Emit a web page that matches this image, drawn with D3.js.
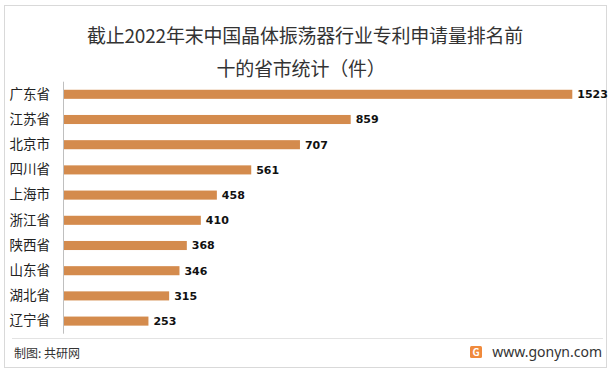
<!DOCTYPE html>
<html>
<head>
<meta charset="utf-8">
<script src="https://cdn.jsdelivr.net/npm/d3@7"></script>
<style>
  body { margin: 0; background: #fff; }
  svg { display: block; font-family: "Noto Sans CJK SC", "Noto Sans", sans-serif; }
</style>
</head>
<body>
<div id="chart"></div>
<script>
// data
const provinces = ['广东省', '江苏省', '北京市', '四川省', '上海市', '浙江省', '陕西省', '山东省', '湖北省', '辽宁省'];
const patents = [1523, 859, 707, 561, 458, 410, 368, 346, 315, 253];
const titleLines = ['截止2022年末中国晶体振荡器行业专利申请量排名前', '十的省市统计（件）'];

const W = 613, H = 373;
const svg = d3.select('#chart').append('svg')
    .attr('width', W)
    .attr('height', H);

// outer frame
svg.append('rect')
    .attr('x', 4.5).attr('y', 5.5)
    .attr('width', 602).attr('height', 362)
    .attr('fill', 'none')
    .attr('stroke', '#d9d9d9');

// title
svg.selectAll('text.title')
    .data(titleLines)
    .join('text')
    .attr('class', 'title')
    .attr('x', (d, i) => i === 0 ? 305 : 301)
    .attr('y', (d, i) => 43 + i * 33)
    .attr('text-anchor', 'middle')
    .attr('font-size', 19)
    .attr('letter-spacing', -0.2)
    .attr('fill', '#333')
    .text(d => d);

const data = provinces.map((p, i) => ({name: p, value: patents[i]}));

const x = d3.scaleLinear()
    .domain([0, 1600])
    .range([64, 598]);

const y = d3.scaleBand()
    .domain(provinces)
    .range([81.7, 333.7])
    .paddingInner(0.64)
    .paddingOuter(0.32);

// bars
svg.append('g')
    .selectAll('rect')
    .data(data)
    .join('rect')
    .attr('x', x(0))
    .attr('y', d => y(d.name))
    .attr('width', d => x(d.value) - x(0))
    .attr('height', y.bandwidth())
    .attr('fill', '#d48b4d');

// value labels
svg.append('g')
    .selectAll('text')
    .data(data)
    .join('text')
    .attr('x', d => x(d.value) + 5)
    .attr('y', d => y(d.name) + y.bandwidth() / 2)
    .attr('dy', '0.36em')
    .attr('font-size', 11)
    .attr('font-weight', 'bold')
    .attr('font-family', '"DejaVu Sans", sans-serif')
    .attr('fill', '#111')
    .text(d => d.value);

// category axis
const yAxis = svg.append('g')
    .attr('transform', `translate(${x(0) - 1},0)`)
    .call(d3.axisLeft(y).tickSize(0).tickPadding(13));
yAxis.select('.domain')
    .attr('stroke', '#bfbfbf')
    .attr('d', 'M0.5,81.7V333.7');
yAxis.selectAll('text')
    .attr('font-size', 13.5)
    .attr('fill', '#222')
    .attr('font-family', '"Noto Sans CJK SC", sans-serif');

// footer
svg.append('line')
    .attr('x1', 12).attr('x2', 603)
    .attr('y1', 338.5).attr('y2', 338.5)
    .attr('stroke', '#e3e3e3');

svg.append('text')
    .attr('x', 14)
    .attr('y', 358)
    .attr('font-size', 12)
    .attr('fill', '#333')
    .text('制图: 共研网');

svg.append('rect')
    .attr('x', 470).attr('y', 346)
    .attr('width', 12).attr('height', 12)
    .attr('rx', 1.5)
    .attr('fill', '#f08a3c');
svg.append('text')
    .attr('x', 476).attr('y', 356)
    .attr('text-anchor', 'middle')
    .attr('font-size', 10)
    .attr('font-weight', 'bold')
    .attr('fill', '#fff')
    .text('G');

svg.append('text')
    .attr('x', 602)
    .attr('y', 357)
    .attr('text-anchor', 'end')
    .attr('font-size', 14)
    .attr('fill', '#333')
    .attr('font-family', '"Noto Sans", sans-serif')
    .text('www.gonyn.com');
</script>
</body>
</html>
